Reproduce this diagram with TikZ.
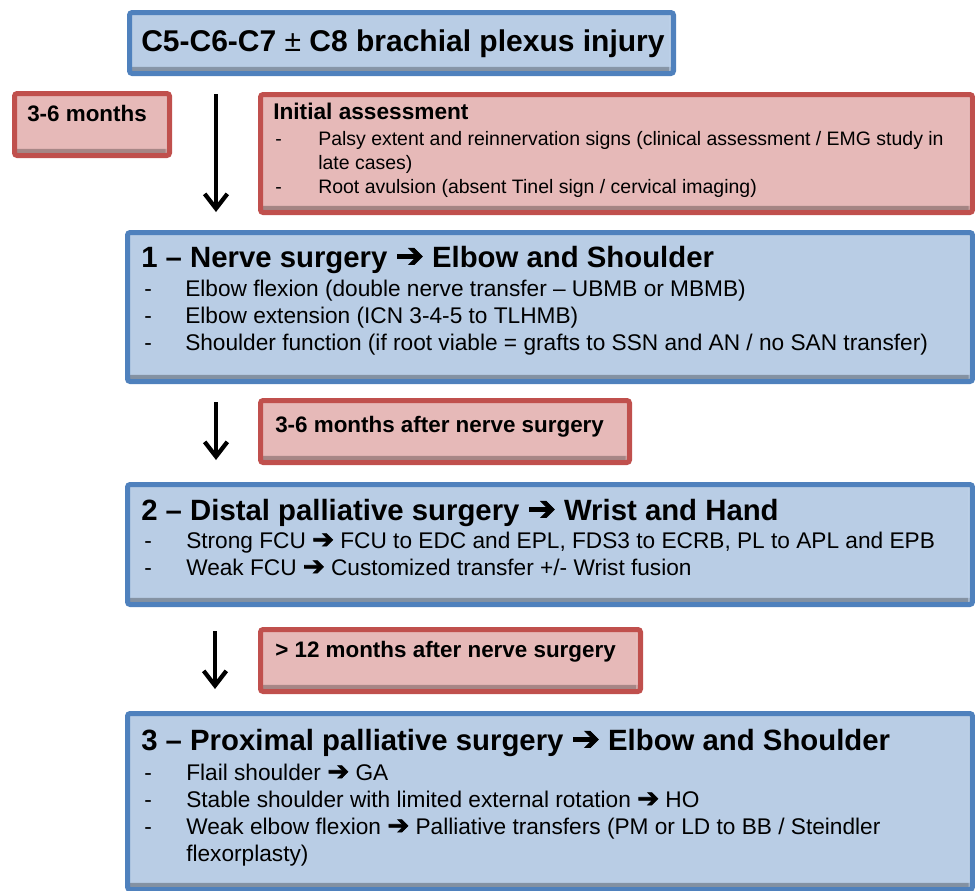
\documentclass[tikz,border=0pt]{standalone}
\usepackage{fontspec}
\setmainfont{Liberation Sans}
\newfontfamily\symfont[FakeBold=2.5]{DejaVu Sans}
\usetikzlibrary{arrows.meta}

\definecolor{stepblue}{HTML}{4F81BD}
\definecolor{stepbluefill}{HTML}{B9CDE5}
\definecolor{timered}{HTML}{C0504D}
\definecolor{timeredfill}{HTML}{E6B9B8}

\newcommand{\thenarrow}{{\symfont\mdseries\scalebox{1.15}{➔}}}

\tikzset{
  stepbox/.style={draw=stepblue, fill=stepbluefill, line width=3.75pt,
    rounded corners=2pt, inner sep=0pt, outer sep=0pt, anchor=north west,
    path picture={
      \shade[top color=stepbluefill, bottom color=stepbluefill!70!black]
        ([yshift=5pt]path picture bounding box.south west) rectangle (path picture bounding box.south east);
      \shade[left color=stepbluefill, right color=stepbluefill!80!black, opacity=.6]
        ([xshift=-3pt]path picture bounding box.north east) rectangle (path picture bounding box.south east);}},
  timebox/.style={draw=timered, fill=timeredfill, line width=3.75pt,
    rounded corners=2pt, inner sep=0pt, outer sep=0pt, anchor=north west,
    path picture={
      \shade[top color=timeredfill, bottom color=timeredfill!70!black]
        ([yshift=5pt]path picture bounding box.south west) rectangle (path picture bounding box.south east);
      \shade[left color=timeredfill, right color=timeredfill!80!black, opacity=.6]
        ([xshift=-3pt]path picture bounding box.north east) rectangle (path picture bounding box.south east);}},
  flow/.style={line width=3.2pt, -{Straight Barb[length=11pt,width=17pt]}},
  titletext/.style={anchor=base west, inner sep=0pt, font=\fontsize{22.5}{27}\selectfont\bfseries},
  boxhead/.style={anchor=base west, inner sep=0pt, font=\fontsize{22}{27}\selectfont\bfseries},
  timetext/.style={anchor=base west, inner sep=0pt, font=\fontsize{16.8}{20}\selectfont\bfseries},
  bodyline/.style={anchor=base west, inner sep=0pt, font=\fontsize{17}{20}\selectfont},
  smallline/.style={anchor=base west, inner sep=0pt, font=\fontsize{14.6}{18}\selectfont},
}

\begin{document}
\begin{tikzpicture}[x=0.75pt,y=-0.75pt]
\useasboundingbox (0,0) rectangle (975,890);

% boxes
\node[stepbox, minimum width=408pt, minimum height=45.75pt] (injury) at (129.5,12.5) {};
\node[timebox, minimum width=116.25pt, minimum height=46.5pt] (months) at (14.5,93.5) {};
\node[timebox, minimum width=534pt, minimum height=88.5pt] (assess) at (260.5,94.5) {};
\node[stepbox, minimum width=633.75pt, minimum height=111.75pt] (nerve) at (127.5,232.5) {};
\node[timebox, minimum width=276.75pt, minimum height=46.5pt] (waitone) at (260.5,400.5) {};
\node[stepbox, minimum width=633.75pt, minimum height=90pt] (distal) at (127.5,484.5) {};
\node[timebox, minimum width=285pt, minimum height=46.5pt] (waittwo) at (260.5,629.5) {};
\node[stepbox, minimum width=633.75pt, minimum height=132pt] (proximal) at (127.5,713.5) {};

% texts
\node[titletext] (injurytxt) at (141,51) {C5-C6-C7 {\mdseries ±} C8 brachial plexus injury};
\node[timetext] (monthstxt) at (27,121) {3-6 months};

\node[timetext, font=\fontsize{17}{20}\selectfont\bfseries] (assesstxt) at (273,119) {Initial assessment};
\node[smallline] (ad1) at (275,145) {-};
\node[smallline] (a1) at (318,145) {Palsy extent and reinnervation signs (clinical assessment / EMG study in};
\node[smallline] (a1b) at (318,169) {late cases)};
\node[smallline] (ad2) at (275,193) {-};
\node[smallline] (a2) at (318,193) {Root avulsion (absent Tinel sign / cervical imaging)};

\node[boxhead] (nervetxt) at (141,267) {1 – Nerve surgery \thenarrow\ Elbow and Shoulder};
\foreach \txt [count=\i] in {{Elbow flexion (double nerve transfer – UBMB or MBMB)},
    {Elbow extension (ICN 3-4-5 to TLHMB)},
    {Shoulder function (if root viable = grafts to SSN and AN / no SAN transfer)}}{
  \node[bodyline] (nd\i) at (144,{296+27*(\i-1)}) {-};
  \node[bodyline] (n\i) at (185,{296+27*(\i-1)}) {\txt};
}

\node[timetext] (waitonetxt) at (275,432) {3-6 months after nerve surgery};

\node[boxhead] (distaltxt) at (141,520) {2 – Distal palliative surgery \thenarrow\ Wrist and Hand};
\foreach \txt [count=\i] in {{Strong FCU \thenarrow\ FCU to EDC and EPL, FDS3 to ECRB, PL to APL and EPB},
    {Weak FCU \thenarrow\ Customized transfer +/- Wrist fusion}}{
  \node[bodyline] (dd\i) at (144,{548+27*(\i-1)}) {-};
  \node[bodyline] (d\i) at (186,{548+27*(\i-1)}) {\txt};
}

\node[timetext] (waittwotxt) at (275,657) {> 12 months after nerve surgery};

\node[boxhead] (proximaltxt) at (141,750) {3 – Proximal palliative surgery \thenarrow\ Elbow and Shoulder};
\foreach \txt [count=\i] in {{Flail shoulder \thenarrow\ GA},
    {Stable shoulder with limited external rotation \thenarrow\ HO},
    {Weak elbow flexion \thenarrow\ Palliative transfers (PM or LD to BB / Steindler}}{
  \node[bodyline] (pd\i) at (144,{780+27*(\i-1)}) {-};
  \node[bodyline] (p\i) at (186,{780+27*(\i-1)}) {\txt};
}
\node[bodyline] (p3b) at (186,861) {flexorplasty)};

% arrows
\coordinate (aonetop) at (216,94);
\coordinate (aonetip) at (216,212);
\coordinate (atwotop) at (216,402);
\coordinate (atwotip) at (216,460);
\coordinate (athreetop) at (215,631);
\coordinate (athreetip) at (215,689);
\draw[flow] (aonetop) -- (aonetip);
\draw[flow] (atwotop) -- (atwotip);
\draw[flow] (athreetop) -- (athreetip);
\end{tikzpicture}
\end{document}
